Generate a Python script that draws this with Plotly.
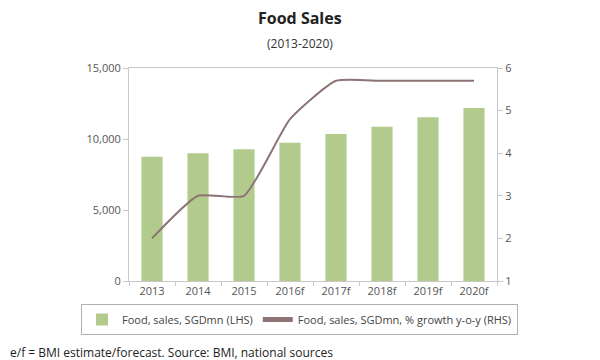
import plotly.graph_objects as go

categories = ["2013", "2014", "2015", "2016f", "2017f", "2018f", "2019f", "2020f"]
sales_sgdmn = [8750, 8990, 9270, 9740, 10350, 10870, 11530, 12180]
growth_pct = [2.0, 3.0, 3.0, 4.8, 5.7, 5.7, 5.7, 5.7]

FONT = "Open Sans"
# page has an 8px body margin, so the figure is drawn 8px in from the top-left
W, H = 592, 352
L, R, T, B = 121, 103, 60, 79
pw, ph = W - L - R, H - T - B
PB = H - B  # plot bottom in figure pixels


def py(yfig):
    return (PB - yfig) / ph


def px(xfig):
    return (xfig - L) / pw


fig = go.Figure()
fig.add_trace(go.Bar(
    x=categories, y=sales_sgdmn, name="Food, sales, SGDmn (LHS)",
    marker=dict(color="#b3ca8d", line=dict(width=0)), yaxis="y",
))
fig.add_trace(go.Scatter(
    x=categories, y=growth_pct, name="Food, sales, SGDmn, % growth y-o-y (RHS)",
    mode="lines", line=dict(color="#8c7474", width=2, shape="spline", smoothing=0.5),
    yaxis="y2",
))

fig.update_layout(
    width=W, height=H,
    margin=dict(l=L, r=R, t=T, b=B, autoexpand=False),
    paper_bgcolor="white", plot_bgcolor="white",
    font=dict(family=FONT, color="#555555", size=11),
    bargap=0.54,
    showlegend=True,
    legend=dict(
        orientation="h", xanchor="left", yanchor="top",
        x=px(73), y=py(296),
        bordercolor="#b0b0b0", borderwidth=1, bgcolor="white",
        font=dict(size=11, color="#444444"), itemsizing="constant",
        traceorder="normal", itemwidth=30,
    ),
    xaxis=dict(
        type="category", showline=True, linecolor="#c8c8c8", linewidth=1,
        mirror=True, ticks="outside", tickson="boundaries", ticklen=4,
        tickcolor="#c8c8c8", showgrid=False, automargin=False,
        tickfont=dict(size=11, color="#555555"),
    ),
    yaxis=dict(
        range=[0, 15000], tickvals=[0, 5000, 10000, 15000],
        ticktext=["0", "5,000", "10,000", "15,000"],
        showline=True, linecolor="#c8c8c8", linewidth=1, ticks="outside",
        ticklen=5, tickcolor="#c8c8c8", showgrid=False, zeroline=False,
        automargin=False, tickfont=dict(size=11, color="#555555"),
    ),
    yaxis2=dict(
        range=[1, 6], tickvals=[1, 2, 3, 4, 5, 6], overlaying="y", side="right",
        showline=True, linecolor="#c8c8c8", linewidth=1, ticks="outside",
        ticklen=5, tickcolor="#c8c8c8", showgrid=False, zeroline=False,
        automargin=False, tickfont=dict(size=11, color="#555555"),
    ),
    annotations=[
        dict(text="<b>Food Sales</b>", xref="paper", yref="paper",
             x=px(292), y=py(10), xanchor="center", yanchor="middle",
             showarrow=False, font=dict(size=16, color="#222222", family=FONT)),
        dict(text="(2013-2020)", xref="paper", yref="paper",
             x=px(292), y=py(35), xanchor="center", yanchor="middle",
             showarrow=False, font=dict(size=12, color="#333333", family=FONT)),
        dict(text="e/f = BMI estimate/forecast. Source: BMI, national sources",
             xref="paper", yref="paper",
             x=px(0), y=py(344), xanchor="left", yanchor="middle",
             showarrow=False, font=dict(size=12, color="#222222", family=FONT)),
    ],
)

fig.write_html("out.html")
